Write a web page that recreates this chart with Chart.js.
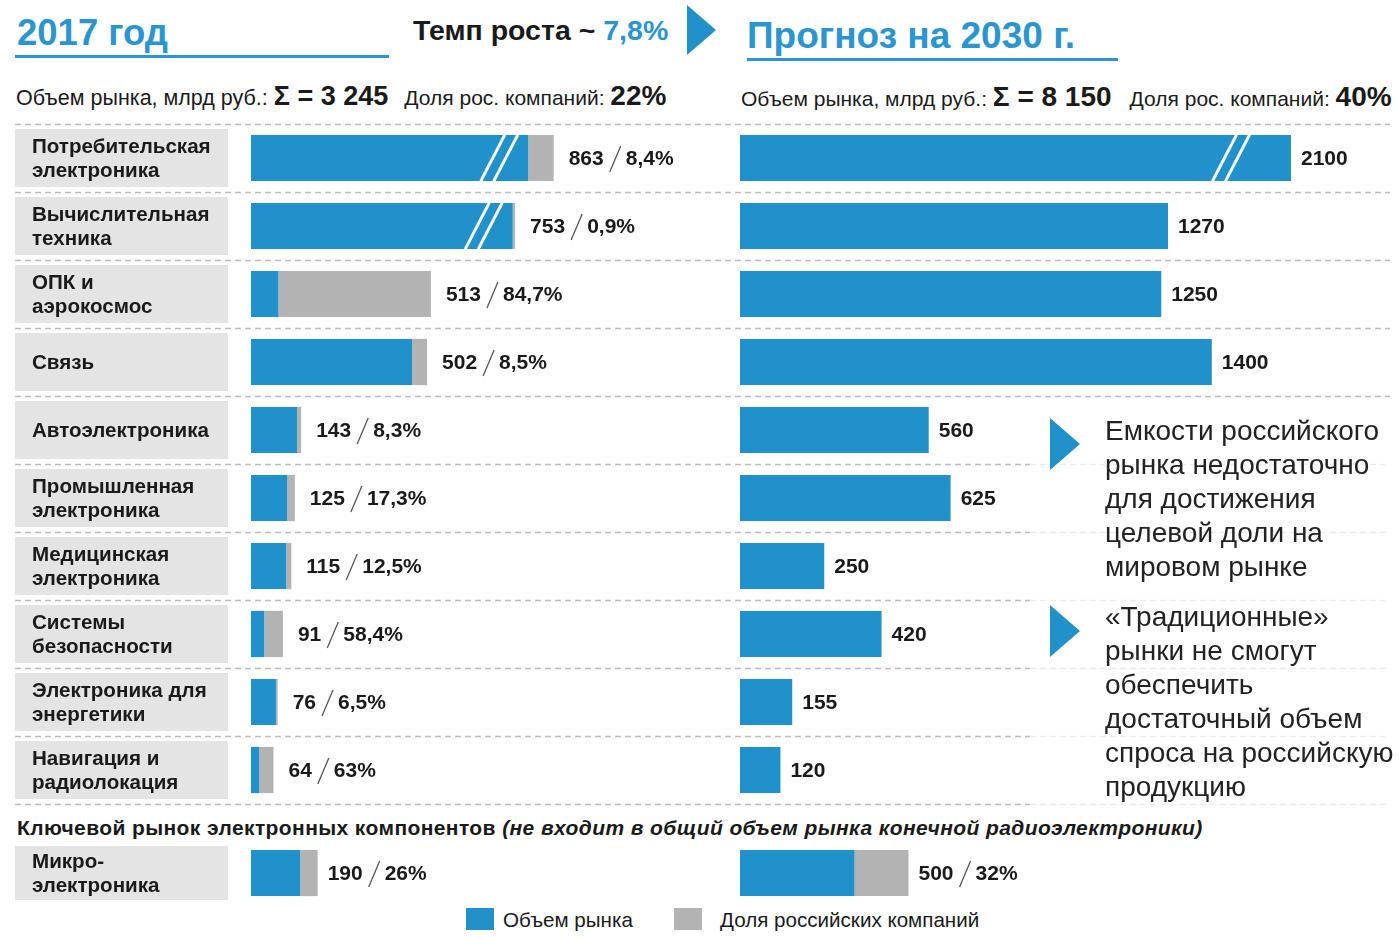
<!DOCTYPE html>
<html>
<head>
<meta charset="utf-8">
<script src="https://cdn.jsdelivr.net/npm/chart.js@4.4.1/dist/chart.umd.min.js"></script>
<style>
    body { margin: 0; width: 1399px; height: 938px; background: #fff; position: relative; overflow: hidden;
           font-family: "Liberation Sans", Arial, sans-serif; color: #1a1a1a; }
    .abs { position: absolute; white-space: nowrap; line-height: 1; }
    canvas { position: absolute; }
    .blue { color: #2a95d0; }
    .tri { position: absolute; width: 0; height: 0; border-style: solid; border-color: transparent transparent transparent #2191cb; }
</style>
</head>
<body>

<!-- headers -->
<div class="abs blue" style="left:17px;top:15px;font-size:36.5px;font-weight:bold;">2017 год</div>
<div class="abs" style="left:15px;top:55px;width:374px;height:3px;background:#2a95d0;"></div>
<div class="abs" style="left:413px;top:16px;font-size:28.5px;font-weight:bold;">Темп роста ~ <span class="blue">7,8%</span></div>
<div class="tri" style="left:687px;top:5px;border-width:25px 0 25px 29px;"></div>
<div class="abs blue" style="left:747px;top:17px;font-size:37px;font-weight:bold;">Прогноз на 2030 г.</div>
<div class="abs" style="left:747px;top:58px;width:371px;height:3px;background:#2a95d0;"></div>

<div class="abs" style="left:16px;top:82px;font-size:21.5px;">Объем рынка, млрд руб.: <b style="font-size:27px">Σ = 3 245</b><span style="margin-left:16px;font-size:21px">Доля рос. компаний: </span><b style="font-size:28px">22%</b></div>
<div class="abs" style="left:741px;top:83px;font-size:21px;">Объем рынка, млрд руб.: <b style="font-size:28px">Σ = 8 150</b><span style="margin-left:18px">Доля рос. компаний: </span><b style="font-size:28px">40%</b></div>

<canvas id="leftMain" width="735" height="704" style="left:0;top:110px;"></canvas>
<canvas id="rightMain" width="664" height="704" style="left:735px;top:110px;"></canvas>

<!-- side notes -->
<div class="tri" style="left:1050px;top:418px;border-width:26px 0 26px 30px;"></div>
<div class="abs" style="left:1105px;top:414px;font-size:28px;line-height:34px;color:#222;">Емкости российского<br>рынка недостаточно<br>для достижения<br>целевой доли на<br>мировом рынке</div>
<div class="tri" style="left:1050px;top:605px;border-width:26px 0 26px 30px;"></div>
<div class="abs" style="left:1105px;top:600px;font-size:28px;line-height:34px;color:#222;">«Традиционные»<br>рынки не смогут<br>обеспечить<br>достаточный объем<br>спроса на российскую<br>продукцию</div>

<div class="abs" style="left:17px;top:817px;font-size:21px;letter-spacing:0.4px;font-weight:bold;">Ключевой рынок электронных компонентов <i>(не входит в общий объем рынка конечной радиоэлектроники)</i></div>

<canvas id="leftMicro" width="735" height="68" style="left:0;top:839px;"></canvas>
<canvas id="rightMicro" width="664" height="68" style="left:735px;top:839px;"></canvas>

<!-- legend -->
<div class="abs" style="left:466px;top:908px;width:28px;height:22px;background:#2191cb;"></div>
<div class="abs" style="left:503px;top:910px;font-size:20.6px;">Объем рынка</div>
<div class="abs" style="left:674px;top:908px;width:28px;height:22px;background:#b3b3b3;"></div>
<div class="abs" style="left:720px;top:910px;font-size:20.6px;">Доля российских компаний</div>

<script>
// categories (one entry per line of the label box)
const categories = [
    ['Потребительская', 'электроника'],
    ['Вычислительная', 'техника'],
    ['ОПК и', 'аэрокосмос'],
    ['Связь'],
    ['Автоэлектроника'],
    ['Промышленная', 'электроника'],
    ['Медицинская', 'электроника'],
    ['Системы', 'безопасности'],
    ['Электроника для', 'энергетики'],
    ['Навигация и', 'радиолокация']
];
// market volume, bn rub
const volume2017 = [863, 753, 513, 502, 143, 125, 115, 91, 76, 64];
// share of russian companies, %
const share2017 = [8.4, 0.9, 84.7, 8.5, 8.3, 17.3, 12.5, 58.4, 6.5, 63];
const volume2030 = [2100, 1270, 1250, 1400, 560, 625, 250, 420, 155, 120];

const microCategory = [['Микро-', 'электроника']];
const microVolume2017 = [190];
const microShare2017 = [26];
const microVolume2030 = [500];
const microShare2030 = [32];

const BLUE = '#2191cb';
const GREY = '#b3b3b3';
const FONT = '"Liberation Sans", Arial, sans-serif';

function fmtShare(v) {
    return String(v).replace('.', ',') + '%';
}

function bluePart(vol, share) {
    return vol.map((v, i) => v * (1 - share[i] / 100));
}

function greyPart(vol, share) {
    return vol.map((v, i) => v * share[i] / 100);
}

const rowDecor = {
    id: 'rowDecor',
    beforeDatasetsDraw(chart, args, o) {
        const ctx = chart.ctx;
        const area = chart.chartArea;
        const yScale = chart.scales.y;
        const n = chart.data.labels.length;
        const pitch = (area.bottom - area.top) / n;
        ctx.save();

        // dashed separators
        if (o.lines) {
            ctx.lineWidth = 1.5;
            ctx.setLineDash([6, 4]);
            for (let i = 0; i <= n; i++) {
                const y = Math.round(area.top + i * pitch) + 0.5;
                const split = o.splitFrom != null && i >= o.splitFrom;
                ctx.strokeStyle = '#bdbdbd';
                ctx.beginPath();
                ctx.moveTo(o.lineFrom, y);
                ctx.lineTo(split ? o.splitAt : o.lineTo, y);
                ctx.stroke();
                if (split) {
                    ctx.strokeStyle = '#ececec';
                    ctx.beginPath();
                    ctx.moveTo(o.splitAt, y);
                    ctx.lineTo(o.lineTo, y);
                    ctx.stroke();
                }
            }
            ctx.setLineDash([]);
        }

        // grey label boxes
        if (o.rows) {
            ctx.font = 'bold 20.6px ' + FONT;
            ctx.textBaseline = 'middle';
            ctx.textAlign = 'left';
            o.rows.forEach((lines, i) => {
                const c = yScale.getPixelForValue(i);
                ctx.fillStyle = '#e4e4e4';
                ctx.fillRect(15, c - o.boxH / 2, 213, o.boxH);
                ctx.fillStyle = '#1a1a1a';
                if (lines.length === 1) {
                    ctx.fillText(lines[0], 32, c + 1);
                } else {
                    ctx.fillText(lines[0], 32, c - 11);
                    ctx.fillText(lines[1], 32, c + 13);
                }
            });
        }
        ctx.restore();
    },
    afterDatasetsDraw(chart, args, o) {
        const ctx = chart.ctx;
        const area = chart.chartArea;
        const metas = chart.data.datasets.map((d, i) => chart.getDatasetMeta(i));
        const last = metas[metas.length - 1];
        ctx.save();

        // break marks on the long bars
        (o.breaks || []).forEach(i => {
            const el = metas[0].data[i];
            const end = Math.min(el.x, area.right);
            const cx = end - o.breakOffset;
            const top = el.y - el.height / 2;
            const bottom = el.y + el.height / 2;
            ctx.strokeStyle = '#fff';
            ctx.lineWidth = 3;
            [-6.5, 6.5].forEach(d => {
                ctx.beginPath();
                ctx.moveTo(cx + d - 12, bottom);
                ctx.lineTo(cx + d + 12, top);
                ctx.stroke();
            });
        });

        // value labels "volume / share"
        ctx.font = 'bold 21px ' + FONT;
        ctx.textBaseline = 'middle';
        ctx.textAlign = 'left';
        ctx.fillStyle = '#1a1a1a';
        o.volumes.forEach((v, i) => {
            const el = last.data[i];
            let x = Math.min(el.x, area.right) + o.gap;
            const y = el.y + 1;
            const txt = String(v);
            ctx.fillText(txt, x, y);
            if (o.shares) {
                x += ctx.measureText(txt).width + 6;
                ctx.strokeStyle = '#555';
                ctx.lineWidth = 1.3;
                ctx.beginPath();
                ctx.moveTo(x, y + 13);
                ctx.lineTo(x + 11, y - 13);
                ctx.stroke();
                ctx.fillText(fmtShare(o.shares[i]), x + 16, y);
            }
        });
        ctx.restore();
    }
};

function makeChart(id, labels, datasets, xMax, padding, decor) {
    return new Chart(document.getElementById(id), {
        type: 'bar',
        data: {
            labels: labels,
            datasets: datasets.map(d => ({
                data: d.data,
                backgroundColor: d.color,
                borderWidth: 0,
                clip: 0,
                barPercentage: 0.68,
                categoryPercentage: 1
            }))
        },
        options: {
            indexAxis: 'y',
            responsive: false,
            animation: false,
            layout: { padding: padding },
            scales: {
                x: { stacked: true, min: 0, max: xMax, display: false },
                y: { stacked: true, display: false }
            },
            plugins: {
                legend: { display: false },
                tooltip: { enabled: false },
                rowDecor: decor
            }
        },
        plugins: [rowDecor]
    });
}

const catNames = categories.map(c => c.join(' '));

// 2017
makeChart('leftMain', catNames, [
    { data: bluePart(volume2017, share2017), color: BLUE },
    { data: greyPart(volume2017, share2017), color: GREY }
], 1380, { left: 251, right: 0, top: 14, bottom: 10 }, {
    lines: true, lineFrom: 15, lineTo: 735,
    rows: categories, boxH: 58,
    breaks: [0, 1], breakOffset: 29,
    volumes: volume2017, shares: share2017, gap: 15
});

// 2030 forecast
makeChart('rightMain', catNames, [
    { data: volume2030, color: BLUE }
], 1635, { left: 5, right: 108, top: 14, bottom: 10 }, {
    lines: true, lineFrom: 0, lineTo: 655, splitFrom: 5, splitAt: 295,
    breaks: [0], breakOffset: 60,
    volumes: volume2030, gap: 10
});

// microelectronics
makeChart('leftMicro', microCategory.map(c => c.join(' ')), [
    { data: bluePart(microVolume2017, microShare2017), color: BLUE },
    { data: greyPart(microVolume2017, microShare2017), color: GREY }
], 1380, { left: 251, right: 0, top: 0, bottom: 0 }, {
    rows: microCategory, boxH: 54,
    volumes: microVolume2017, shares: microShare2017, gap: 10
});

makeChart('rightMicro', microCategory.map(c => c.join(' ')), [
    { data: bluePart(microVolume2030, microShare2030), color: BLUE },
    { data: greyPart(microVolume2030, microShare2030), color: GREY }
], 1635, { left: 5, right: 108, top: 0, bottom: 0 }, {
    volumes: microVolume2030, shares: microShare2030, gap: 10
});
</script>
</body>
</html>
